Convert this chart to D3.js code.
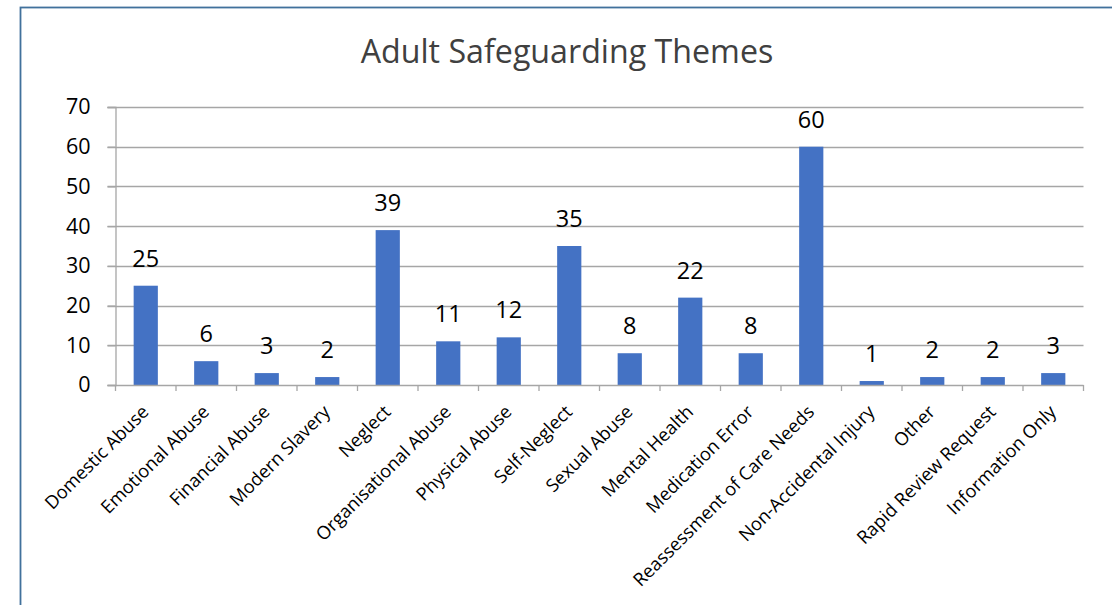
<!DOCTYPE html>
<html>
<head>
<meta charset="utf-8">
<script src="https://cdn.jsdelivr.net/npm/d3@7"></script>
<style>
  html, body { margin: 0; padding: 0; background: #fff; }
  svg { display: block; font-family: "Open Sans", Lato, sans-serif; }
</style>
</head>
<body>
<svg id="chart" width="1112" height="605"></svg>
<script>
// Adult safeguarding themes: number of referrals per theme
const categories = [
  "Domestic Abuse", "Emotional Abuse", "Financial Abuse", "Modern Slavery",
  "Neglect", "Organisational Abuse", "Physical Abuse", "Self-Neglect",
  "Sexual Abuse", "Mental Health", "Medication Error", "Reassessment of Care Needs",
  "Non-Accidental Injury", "Other", "Rapid Review Request", "Information Only"
];
const counts = [25, 6, 3, 2, 39, 11, 12, 35, 8, 22, 8, 60, 1, 2, 2, 3];
const yTicks = [0, 10, 20, 30, 40, 50, 60, 70];
const titleText = "Adult Safeguarding Themes";

const svg = d3.select("#chart");
const FONT = "'Open Sans', Lato, sans-serif";

// outer frame (runs off the right and bottom edges)
svg.append("rect")
  .attr("x", 20.5).attr("y", 7.5)
  .attr("width", 1200).attr("height", 700)
  .attr("fill", "none")
  .attr("stroke", "#41719C")
  .attr("stroke-width", 1.8);

const plot = { left: 115.5, right: 1083.5, top: 107, bottom: 385 };

const band = d3.scaleBand().domain(categories).range([plot.left, plot.right]);
const y = d3.scaleLinear().domain([0, 70]).range([plot.bottom, plot.top]);

// title
svg.append("text")
  .attr("x", 567).attr("y", 63)
  .attr("text-anchor", "middle")
  .attr("fill", "#404040")
  .style("font-size", "32.2px")
  .text(titleText);

// horizontal gridlines with short outward ticks on the left
svg.append("g")
  .selectAll("line")
  .data(yTicks.filter(d => d > 0))
  .join("line")
  .attr("x1", plot.left - 8).attr("x2", plot.right)
  .attr("y1", d => Math.round(y(d)) + 0.5).attr("y2", d => Math.round(y(d)) + 0.5)
  .attr("stroke", "#A6A6A6").attr("stroke-width", 1.3);

// y axis
const yAxis = svg.append("g")
  .attr("transform", `translate(${plot.left},0)`)
  .call(d3.axisLeft(y).tickValues(yTicks).tickSize(8).tickPadding(17));
yAxis.select(".domain").attr("stroke", "#A6A6A6").attr("stroke-width", 1.3);
yAxis.selectAll(".tick line").attr("stroke", "#A6A6A6").attr("stroke-width", 1.3);
yAxis.selectAll(".tick text")
  .attr("fill", "#000")
  .style("font-size", "21.5px")
  .style("font-family", FONT);

// bars
svg.append("g")
  .selectAll("rect")
  .data(counts)
  .join("rect")
  .attr("x", (d, i) => band(categories[i]) + band.bandwidth() * 0.3)
  .attr("width", band.bandwidth() * 0.4)
  .attr("y", d => y(d))
  .attr("height", d => y(0) - y(d))
  .attr("fill", "#4472C4");

// x axis baseline and category boundary ticks
const xAxisG = svg.append("g");
xAxisG.append("line")
  .attr("x1", plot.left - 8).attr("x2", plot.right)
  .attr("y1", plot.bottom + 0.5).attr("y2", plot.bottom + 0.5)
  .attr("stroke", "#A6A6A6").attr("stroke-width", 1.3);
const boundaries = categories.map(c => band(c)).concat([plot.right]);
xAxisG.selectAll("line.tick")
  .data(boundaries)
  .join("line")
  .attr("class", "tick")
  .attr("x1", d => d).attr("x2", d => d)
  .attr("y1", plot.bottom).attr("y2", plot.bottom + 6)
  .attr("stroke", "#A6A6A6").attr("stroke-width", 1.3);

// rotated category labels
svg.append("g")
  .selectAll("text")
  .data(categories)
  .join("text")
  .attr("transform", c => `translate(${band(c) + band.bandwidth() / 2 - 5},${plot.bottom + 19}) rotate(-45)`)
  .attr("text-anchor", "end")
  .attr("dy", "0.7em")
  .attr("fill", "#000")
  .style("font-size", "18.3px")
  .text(c => c);

// value labels above bars
svg.append("g")
  .selectAll("text")
  .data(counts)
  .join("text")
  .attr("x", (d, i) => band(categories[i]) + band.bandwidth() / 2)
  .attr("y", d => y(d) - 19)
  .attr("text-anchor", "middle")
  .attr("fill", "#000")
  .style("font-size", "23.5px")
  .text(d => d);
</script>
</body>
</html>
